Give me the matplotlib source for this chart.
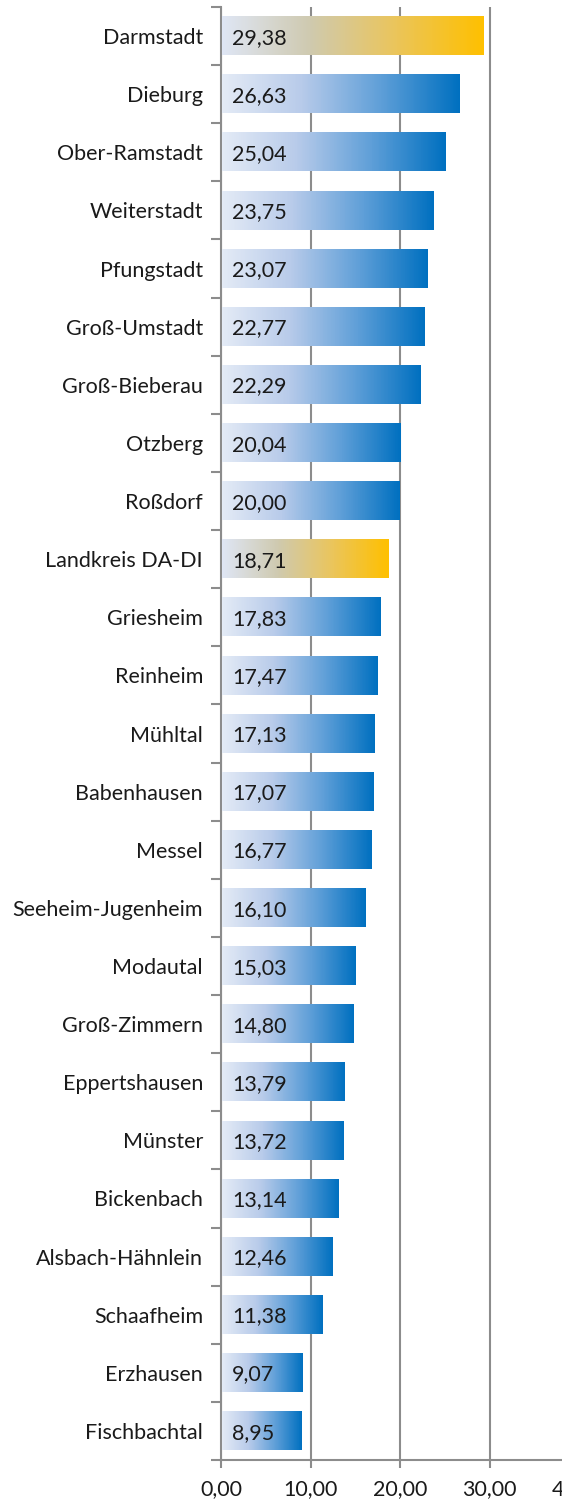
import matplotlib.pyplot as plt
import numpy as np
from matplotlib.colors import LinearSegmentedColormap

# data
orte = ["Darmstadt", "Dieburg", "Ober-Ramstadt", "Weiterstadt", "Pfungstadt",
        "Groß-Umstadt", "Groß-Bieberau", "Otzberg", "Roßdorf", "Landkreis DA-DI",
        "Griesheim", "Reinheim", "Mühltal", "Babenhausen", "Messel",
        "Seeheim-Jugenheim", "Modautal", "Groß-Zimmern", "Eppertshausen", "Münster",
        "Bickenbach", "Alsbach-Hähnlein", "Schaafheim", "Erzhausen", "Fischbachtal"]
werte = [29.38, 26.63, 25.04, 23.75, 23.07,
         22.77, 22.29, 20.04, 20.00, 18.71,
         17.83, 17.47, 17.13, 17.07, 16.77,
         16.10, 15.03, 14.80, 13.79, 13.72,
         13.14, 12.46, 11.38, 9.07, 8.95]
hervorgehoben = ["Darmstadt", "Landkreis DA-DI"]
x_ticks = [0, 10, 20, 30, 40]

plt.rcParams['font.family'] = ['Lato', 'DejaVu Sans']

blau = LinearSegmentedColormap.from_list("blau", ["#e4ebf6", "#b8cbea", "#5f9fd8", "#0070c0"])
gold = LinearSegmentedColormap.from_list("gold", ["#dfe6f5", "#cfcab0", "#ebc55a", "#ffc000"])
grau = "#8c8c8c"
text_farbe = "#1a1a1a"
fs = 15.5

fig = plt.figure(figsize=(5.62, 14.99), dpi=100)
ax = fig.add_axes([221 / 562, 39 / 1499, 358 / 562, 1453 / 1499])

n = len(orte)
bar_h = 0.66
verlauf = np.tile(np.linspace(0, 1, 512), (2, 1))
for i, (ort, wert) in enumerate(zip(orte, werte)):
    cmap = gold if ort in hervorgehoben else blau
    ax.imshow(verlauf, cmap=cmap, aspect='auto', interpolation='nearest',
              extent=[0.12, wert, i + bar_h / 2, i - bar_h / 2], zorder=3)
    ax.text(1.25, i + 0.03, f"{wert:.2f}".replace(".", ","), va='center', ha='left',
            fontsize=fs, color=text_farbe, zorder=5)

ax.set_xlim(0, 40)
ax.set_ylim(n - 0.5, -0.5)

ax.set_yticks(range(n))
ax.set_yticklabels(orte, fontsize=fs, color=text_farbe)
ax.tick_params(axis='y', which='major', length=0, pad=13)
ax.set_yticks(np.arange(-0.5, n, 1), minor=True)
ax.tick_params(axis='y', which='minor', length=7, width=1.5, color=grau, direction='out')

ax.set_xticks(x_ticks)
ax.set_xticklabels([f"{t:.2f}".replace(".", ",") for t in x_ticks], fontsize=fs, color=text_farbe)
ax.tick_params(axis='x', length=6, width=1.5, color=grau, direction='out', pad=8)

ax.grid(axis='x', color=grau, linewidth=1.5, zorder=0)
ax.set_axisbelow(True)
for s in ['top', 'right']:
    ax.spines[s].set_visible(False)
for s in ['left', 'bottom']:
    ax.spines[s].set_color(grau)
    ax.spines[s].set_linewidth(1.5)

fig.savefig("out.png", dpi=100)
